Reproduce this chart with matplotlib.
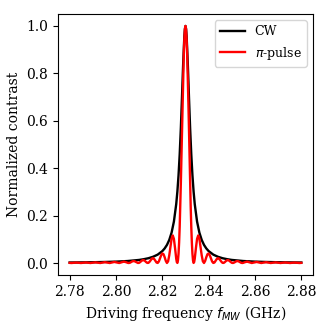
import matplotlib
matplotlib.use("Agg")
import matplotlib.pyplot as plt

# CW (Lorentzian-like) response
cw_freq = [2.780, 2.785, 2.790, 2.795, 2.800, 2.805, 2.810, 2.812, 2.814, 2.816, 2.818,
           2.820, 2.821, 2.822, 2.823, 2.824, 2.825, 2.826, 2.8265, 2.827, 2.8275,
           2.828, 2.8285, 2.829, 2.8295, 2.82975, 2.830, 2.83025, 2.8305, 2.831,
           2.8315, 2.832, 2.8325, 2.833, 2.8335, 2.834, 2.835, 2.836, 2.837, 2.838,
           2.839, 2.840, 2.842, 2.844, 2.846, 2.848, 2.850, 2.855, 2.860, 2.865,
           2.870, 2.875, 2.880]
cw_vals = [0.0021, 0.0026, 0.0033, 0.0043, 0.0058, 0.0084, 0.0130, 0.0161, 0.0202, 0.0263,
           0.0354, 0.0502, 0.0613, 0.0763, 0.0974, 0.1281, 0.1746, 0.2485, 0.3016, 0.3702,
           0.4584, 0.5694, 0.7016, 0.8410, 0.9549, 0.9883, 1.0, 0.9883, 0.9549, 0.8410,
           0.7016, 0.5694, 0.4584, 0.3702, 0.3016, 0.2485, 0.1746, 0.1281, 0.0974, 0.0763,
           0.0613, 0.0502, 0.0354, 0.0263, 0.0202, 0.0161, 0.0130, 0.0084, 0.0058, 0.0043,
           0.0033, 0.0026, 0.0021]

# pi-pulse response (central peak with side lobes)
pi_half_offset = [0.0, 0.00025, 0.0005, 0.00075, 0.001, 0.00125, 0.0015, 0.00175, 0.002,
                  0.00225, 0.0025, 0.00275, 0.003, 0.00325, 0.0035, 0.00375, 0.004, 0.0045,
                  0.005, 0.0055, 0.006, 0.0065, 0.007, 0.0075, 0.008, 0.0085, 0.009, 0.0095,
                  0.010, 0.0105, 0.011, 0.0115, 0.012, 0.0125, 0.013, 0.0135, 0.014, 0.0145,
                  0.015, 0.0155, 0.016, 0.0165, 0.017, 0.0175, 0.018, 0.0185, 0.019, 0.0195,
                  0.020, 0.0205, 0.021, 0.0215, 0.022, 0.0225, 0.023, 0.0235, 0.024, 0.0245,
                  0.025, 0.0255, 0.0266, 0.0276, 0.0286, 0.0297, 0.0307, 0.0317, 0.0327,
                  0.0338, 0.0348, 0.0358, 0.0368, 0.0379, 0.0389, 0.0399, 0.0410, 0.0420,
                  0.0430, 0.0440, 0.0451, 0.0461, 0.0471, 0.0481, 0.0492, 0.0500]
pi_half_vals = [1.0, 0.9852, 0.9418, 0.8728, 0.7827, 0.6775, 0.5637, 0.4481, 0.3375,
                0.2376, 0.1528, 0.0862, 0.0391, 0.0109, 0.0003, 0.0041, 0.0184, 0.0627,
                0.1019, 0.1164, 0.1023, 0.0689, 0.0324, 0.0072, 0.0001, 0.0090, 0.0249, 0.0375,
                0.0403, 0.0326, 0.0190, 0.0064, 0.0003, 0.0020, 0.0091, 0.0168, 0.0205, 0.0186,
                0.0123, 0.0054, 0.0007, 0.0005, 0.0040, 0.0088, 0.0120, 0.0119, 0.0088, 0.0044,
                0.0009, 0.0001, 0.0019, 0.0050, 0.0076, 0.0082, 0.0066, 0.0038, 0.0010, 0.0000,
                0.0009, 0.0030, 0.0059, 0.0028, 0.0000, 0.0021, 0.0044, 0.0021, 0.0000,
                0.0017, 0.0035, 0.0017, 0.0000, 0.0014, 0.0028, 0.0014, 0.0000, 0.0011,
                0.0023, 0.0011, 0.0000, 0.0009, 0.0019, 0.0009, 0.0000, 0.0006]
center_freq = 2.83

pi_freq = [center_freq - d for d in reversed(pi_half_offset[1:])] + \
          [center_freq + d for d in pi_half_offset]
pi_vals = list(reversed(pi_half_vals[1:])) + list(pi_half_vals)

xticks = [2.78, 2.80, 2.82, 2.84, 2.86, 2.88]
yticks = [0.0, 0.2, 0.4, 0.6, 0.8, 1.0]

plt.rcParams['font.family'] = ['DejaVu Serif']
plt.rcParams['font.size'] = 10

fig = plt.figure(figsize=(3.28, 3.28), dpi=100)
ax = fig.add_axes([0.177, 0.162, 0.777, 0.795])
ax.plot(cw_freq, cw_vals, color='black', lw=1.7, label='CW')
ax.plot(pi_freq, pi_vals, color='red', lw=1.7, label=r'$\pi$-pulse')
ax.set_xticks(xticks)
ax.set_xticklabels([f"{t:.2f}" for t in xticks])
ax.set_yticks(yticks)
ax.set_yticklabels([f"{t:.1f}" for t in yticks])
ax.set_xlabel(r'Driving frequency $f_{MW}$ (GHz)')
ax.set_ylabel('Normalized contrast')
ax.legend(loc='upper right', fontsize=9)
fig.savefig('out.png', dpi=100)
